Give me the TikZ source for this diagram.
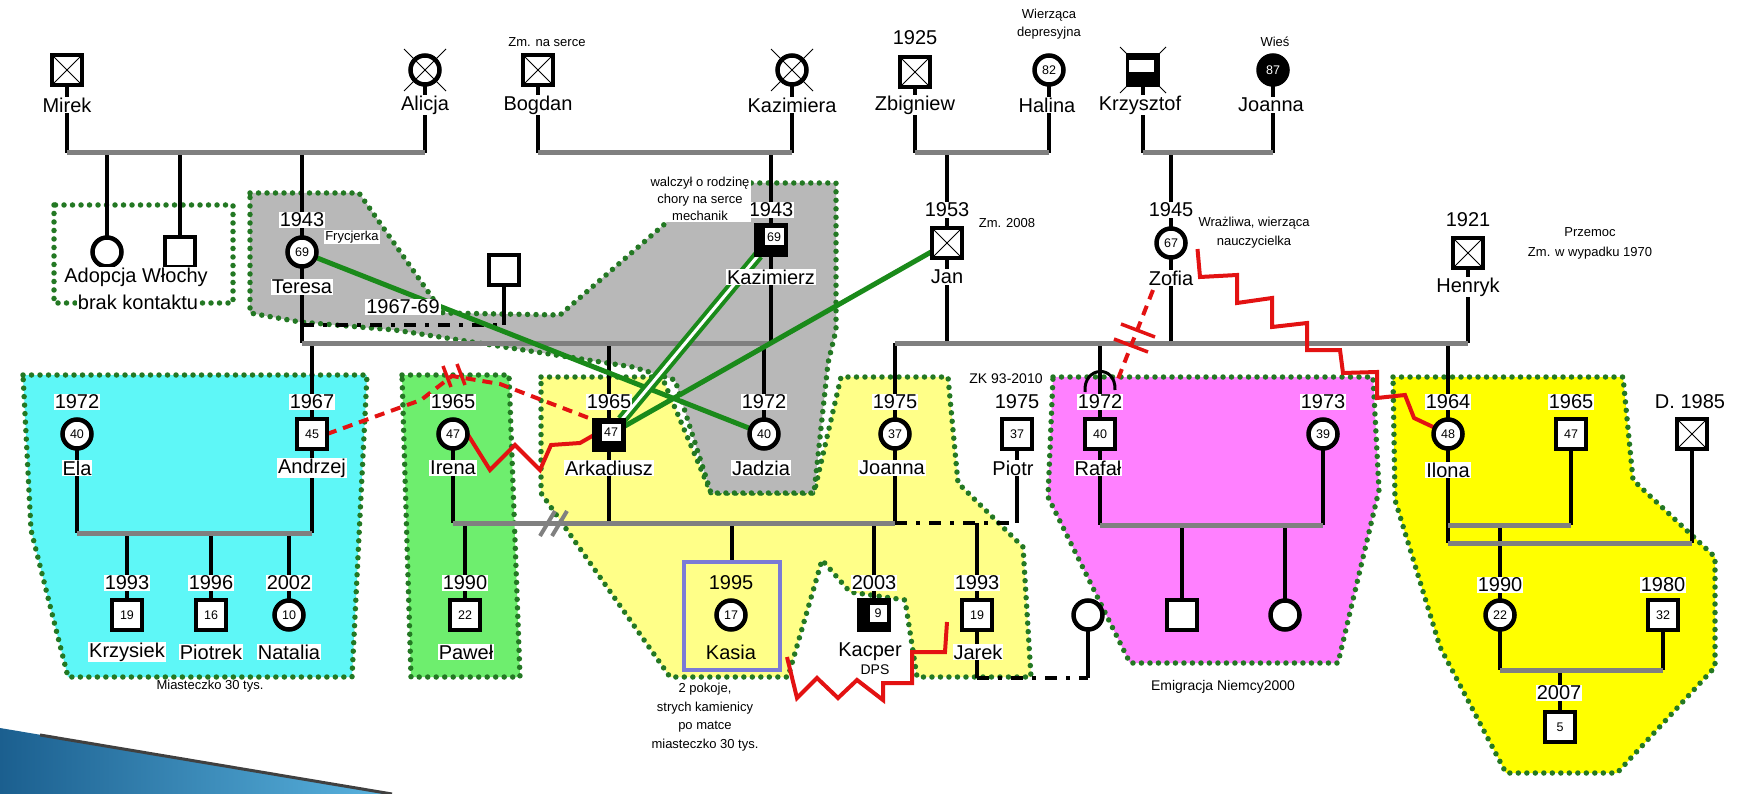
\documentclass[tikz,border=0pt]{standalone}
\usepackage{fontspec}
\setmainfont{Liberation Sans}
\usetikzlibrary{calc}
\pgfdeclarelayer{regions}
\pgfdeclarelayer{links}
\pgfsetlayers{regions,links,main}
\definecolor{cyanR}{HTML}{5EF7F7}
\definecolor{greenR}{HTML}{6EEE6E}
\definecolor{yellowL}{HTML}{FFFF88}
\definecolor{yellowR}{HTML}{FFFF00}
\definecolor{pinkR}{HTML}{FF80FF}
\definecolor{grayR}{HTML}{B8B8B8}
\definecolor{dotG}{HTML}{237823}
\definecolor{relG}{HTML}{1A8A1A}
\definecolor{mlG}{HTML}{808080}
\definecolor{redL}{HTML}{E31212}
\definecolor{kasiaB}{HTML}{7B7BD6}
\definecolor{decoA}{HTML}{1B5F8F}
\definecolor{decoB}{HTML}{5AB4E0}
\newcommand{\gxm}[2]{\draw[xs] ($(#1)+(-#2,-#2)$) -- ($(#1)+(#2,#2)$) ($(#1)+(#2,-#2)$) -- ($(#1)+(-#2,#2)$);}
\begin{document}
\begin{tikzpicture}[x=1pt,y=-1pt,
  msq/.style={draw, line width=4.5, fill=white, minimum size=30, inner sep=0, outer sep=0, font=\fontsize{12.5}{12.5}\selectfont},
  fci/.style={circle, draw, line width=4.5, fill=white, minimum size=29, inner sep=0, outer sep=0, font=\fontsize{12.5}{12.5}\selectfont},
  bsq/.style={msq, fill=black},
  wbox/.style={fill=white, minimum width=19, minimum height=17, inner sep=0, font=\fontsize{12.5}{12.5}\selectfont},
  lbl/.style={fill=white, inner sep=1, outer sep=0, font=\fontsize{20}{22}\selectfont},
  note/.style={inner sep=1, align=center, font=\fontsize{13}{17}\selectfont},
  ml/.style={draw=mlG, line width=5},
  bl/.style={draw=black, line width=4},
  xs/.style={draw=black, line width=1},
  rgn/.style={draw=dotG, line width=5.5, dash pattern=on 0pt off 8.5pt, line cap=round},
  reld/.style={draw=redL, line width=4, dash pattern=on 10pt off 7pt},
  redz/.style={draw=redL, line width=4, line join=miter},
  grl/.style={draw=relG, line width=5},
  grd/.style={draw=relG, line width=4, double=white, double distance=3},
  dd/.style={draw=black, line width=4, dash pattern=on 12pt off 9pt on 4pt off 9pt}
]
\useasboundingbox (0,0) rectangle (1743,794);

%================ top row
\node[msq] (mirek) at (67,70) {}; \gxm{mirek}{15}
\node[fci] (alicja) at (425,70) {}; \gxm{alicja}{21}
\node[msq] (bogdan) at (538,70) {}; \gxm{bogdan}{15}
\node[fci] (kazimiera) at (792,70) {}; \gxm{kazimiera}{21}
\node[msq] (zbigniew) at (915,72) {}; \gxm{zbigniew}{15}
\node[fci] (halina) at (1049,70) {82};
\coordinate (kz) at (1143,70); \gxm{kz}{23}
\node[bsq] (krzysztof) at (kz) {};
\node[fill=white, minimum width=25, minimum height=12, inner sep=0] (kzw) at ($(krzysztof)+(-1.5,-4)$) {};
\node[fci, fill=black, text=white] (joannat) at (1273,70) {87};

\node[lbl] (nmirek) at (67,105) {Mirek};
\node[lbl] (nalicja) at (425,105) {Alicja};
\node[lbl] (nbogdan) at (538,105) {Bogdan};
\node[lbl] (nkazimiera) at (792,105) {Kazimiera};
\node[lbl] (nzbigniew) at (915,105) {Zbigniew};
\node[lbl] (nhalina) at (1047,105) {Halina};
\node[lbl] (nkrzysztof) at (1140,105) {Krzysztof};
\node[lbl] (njoannat) at (1271,105) {Joanna};
\node[note] (zmserce) at (547,42) {Zm. na serce};
\node[lbl] (y1925) at (915,38) {1925};
\node[note, font=\fontsize{13}{18}\selectfont] (wierz) at (1049,24) {Wierząca\\depresyjna};
\node[note] (wies) at (1275,42) {Wieś};

%================ second row
\node[fci] (adopcja) at (107,252) {};
\node[msq] (wlochy) at (180,252) {};
\node[lbl] (nadw) at (136,277) {Adopcja Włochy};
\node[lbl] (nbrak) at (138,302) {brak kontaktu};

\node[fci] (teresa) at (302,252) {69};
\node[lbl] (yteresa) at (302,220) {1943};
\node[note, fill=white] (fryz) at (352,237) {Frycjerka};
\node[lbl] (nteresa) at (302,287) {Teresa};
\node[msq] (pq) at (504,270) {};
\node[lbl] (y6769) at (403,307) {1967-69};

\node[bsq] (kazimierz) at (771,240) {};
\node[wbox] (kazw) at ($(kazimierz)+(3,-3)$) {69};
\node[lbl] (ykazimierz) at (771,210) {1943};
\node[lbl] (nkazimierz) at (771,277) {Kazimierz};
\node[note, fill=white, font=\fontsize{13}{17}\selectfont] (walcz) at (700,199) {walczył o rodzinę\\chory na serce\\mechanik};

\node[msq] (jan) at (947,243) {}; \gxm{jan}{15}
\node[lbl] (yjan) at (947,210) {1953};
\node[note] (zm2008) at (1007,223) {Zm. 2008};
\node[lbl] (njan) at (947,277) {Jan};

\node[fci] (zofia) at (1171,243) {67};
\node[lbl] (yzofia) at (1171,210) {1945};
\node[lbl] (nzofia) at (1171,278) {Zofia};
\node[note, font=\fontsize{13}{19}\selectfont] (wraz) at (1254,233) {Wrażliwa, wierząca\\nauczycielka};

\node[msq] (henryk) at (1468,253) {}; \gxm{henryk}{15}
\node[lbl] (yhenryk) at (1468,220) {1921};
\node[lbl] (nhenryk) at (1468,287) {Henryk};
\node[note, font=\fontsize{13}{20}\selectfont] (przem) at (1590,243) {Przemoc\\Zm. w wypadku 1970};

%================ third row
\node[fci] (ela) at (77,434) {40};
\node[lbl] (yela) at (77,402) {1972};
\node[lbl] (nela) at (77,468) {Ela};
\node[msq] (andrzej) at (312,434) {45};
\node[lbl] (yandrzej) at (312,402) {1967};
\node[lbl] (nandrzej) at (312,468) {Andrzej};
\node[fci] (irena) at (453,434) {47};
\node[lbl] (yirena) at (453,402) {1965};
\node[lbl] (nirena) at (453,468) {Irena};
\node[bsq] (arkadiusz) at (609,435) {};
\node[wbox] (arkw) at ($(arkadiusz)+(2,-3)$) {47};
\node[lbl] (yarkadiusz) at (609,402) {1965};
\node[lbl] (narkadiusz) at (609,468) {Arkadiusz};
\node[fci] (jadzia) at (764,434) {40};
\node[lbl] (yjadzia) at (764,402) {1972};
\node[lbl] (njadzia) at (761,468) {Jadzia};
\node[fci] (joanna) at (895,434) {37};
\node[lbl] (yjoanna) at (895,402) {1975};
\node[lbl] (njoanna) at (892,468) {Joanna};
\node[note, font=\fontsize{14}{16}\selectfont] (zk) at (1006,379) {ZK 93-2010};
\node[msq] (piotr) at (1017,434) {37};
\node[lbl] (ypiotr) at (1017,402) {1975};
\node[lbl] (npiotr) at (1013,468) {Piotr};
\node[msq] (rafal) at (1100,434) {40};
\node[lbl] (yrafal) at (1100,402) {1972};
\node[lbl] (nrafal) at (1098,468) {Rafał};
\node[fci] (wc) at (1323,434) {39};
\node[lbl] (ywc) at (1323,402) {1973};
\node[fci] (ilona) at (1448,434) {48};
\node[lbl] (yilona) at (1448,402) {1964};
\node[lbl] (nilona) at (1448,470) {Ilona};
\node[msq] (mb) at (1571,434) {47};
\node[lbl] (ymb) at (1571,402) {1965};
\node[msq] (dd85) at (1692,434) {}; \gxm{dd85}{15}
\node[lbl] (ydd85) at (1690,402) {D. 1985};

%================ fourth row
\node[msq] (krzysiek) at (127,615) {19};
\node[lbl] (ykrzysiek) at (127,583) {1993};
\node[lbl] (nkrzysiek) at (127,652) {Krzysiek};
\node[msq] (piotrek) at (211,615) {16};
\node[lbl] (ypiotrek) at (211,583) {1996};
\node[lbl] (npiotrek) at (211,652) {Piotrek};
\node[fci] (natalia) at (289,615) {10};
\node[lbl] (ynatalia) at (289,583) {2002};
\node[lbl] (nnatalia) at (289,652) {Natalia};
\node[note, font=\fontsize{13}{15}\selectfont] (miast) at (210,686) {Miasteczko 30 tys.};
\node[msq] (pawel) at (465,615) {22};
\node[lbl] (ypawel) at (465,583) {1990};
\node[lbl] (npawel) at (466,652) {Paweł};

\node[draw=kasiaB, line width=4.5, minimum width=96, minimum height=108, inner sep=0] (kbox) at (732,616) {};
\node[fci] (kasia) at (731,615) {17};
\node[lbl, fill=yellowL] (ykasia) at (731,583) {1995};
\node[lbl, fill=yellowL] (nkasia) at (731,652) {Kasia};
\node[note, font=\fontsize{13}{18.5}\selectfont] (pokoje) at (705,717) {2 pokoje,\\strych kamienicy\\po matce\\miasteczko 30 tys.};

\node[bsq] (kacper) at (874,615) {};
\node[wbox, minimum width=17] (kacw) at ($(kacper)+(4,-2)$) {9};
\node[lbl] (ykacper) at (874,583) {2003};
\node[lbl] (nkacper) at (870,652) {Kacper};
\node[note, font=\fontsize{14}{16}\selectfont] (dps) at (875,670) {DPS};

\node[msq] (jarek) at (977,615) {19};
\node[lbl] (yjarek) at (977,583) {1993};
\node[lbl] (njarek) at (978,652) {Jarek};
\node[fci] (uc) at (1088,615) {};

\node[msq] (ps) at (1182,615) {};
\node[fci] (pc) at (1285,615) {};
\node[note, font=\fontsize{14}{16}\selectfont] (emig) at (1223,687) {Emigracja Niemcy2000};

\node[fci] (y1990) at (1500,615) {22};
\node[lbl] (yy1990) at (1500,585) {1990};
\node[msq] (y1980) at (1663,615) {32};
\node[lbl] (yy1980) at (1663,585) {1980};
\node[msq] (k2007) at (1560,727) {5};
\node[lbl] (yk2007) at (1559,693) {2007};

%================ coordinates of family lines
\coordinate (tA) at (67,153); \coordinate (tB) at (425,153);
\coordinate (tC) at (538,153); \coordinate (tD) at (792,153);
\coordinate (tE) at (915,153); \coordinate (tF) at (1049,153);
\coordinate (tG) at (1143,153); \coordinate (tH) at (1273,153);
\coordinate (gA) at (302,343); \coordinate (gB) at (771,343);
\coordinate (gC) at (895,343); \coordinate (gD) at (1468,343);
\coordinate (eA) at (77,533); \coordinate (eB) at (312,533);
\coordinate (iA) at (453,523); \coordinate (iB) at (895,523); \coordinate (pE) at (1017,523);
\coordinate (rA) at (1100,525); \coordinate (rB) at (1323,525);
\coordinate (lA) at (1448,525); \coordinate (lB) at (1571,525);
\coordinate (lC) at (1448,543); \coordinate (lD) at (1692,543);
\coordinate (cA) at (1500,670); \coordinate (cB) at (1663,670);
\coordinate (dA) at (302,325); \coordinate (dB) at (504,325);
\coordinate (jA) at (977,678); \coordinate (jB) at (1088,678);

%================ links layer
\begin{pgfonlayer}{links}
\draw[bl] (mirek) -- (mirek |- tA);
\draw[bl] (alicja) -- (alicja |- tB);
\draw[bl] (bogdan) -- (bogdan |- tC);
\draw[bl] (kazimiera) -- (kazimiera |- tD);
\draw[bl] (zbigniew) -- (zbigniew |- tE);
\draw[bl] (halina) -- (halina |- tF);
\draw[bl] (krzysztof) -- (krzysztof |- tG);
\draw[bl] (joannat) -- (joannat |- tH);
\draw[bl] (adopcja) -- (adopcja |- tA);
\draw[bl] (wlochy) -- (wlochy |- tA);
\draw[bl] (teresa |- tA) -- (teresa |- gA);
\draw[bl] (kazimierz |- tC) -- (kazimierz |- gB);
\draw[bl] (jan |- tE) -- (jan |- gC);
\draw[bl] (zofia |- tG) -- (zofia |- gD);
\draw[bl] (henryk) -- (henryk |- gD);
\draw[bl] (pq) -- (pq |- dB);
\draw[bl] (ela) -- (ela |- eA);
\draw[bl] (andrzej |- gA) -- (andrzej |- eA);
\draw[bl] (irena) -- (irena |- iA);
\draw[bl] (arkadiusz |- gA) -- (arkadiusz |- iA);
\draw[bl] (jadzia |- gA) -- (jadzia);
\draw[bl] (joanna |- gC) -- (joanna |- iB);
\draw[bl] (piotr) -- (piotr |- pE);
\draw[bl] (rafal |- gC) -- (rafal |- rA);
\draw[bl] (wc) -- (wc |- rB);
\draw[bl] (ilona |- gC) -- (ilona |- lC);
\draw[bl] (mb) -- (mb |- lB);
\draw[bl] (dd85) -- (dd85 |- lD);
\draw[bl] (krzysiek) -- (krzysiek |- eA);
\draw[bl] (piotrek) -- (piotrek |- eA);
\draw[bl] (natalia) -- (natalia |- eA);
\draw[bl] (pawel) -- (pawel |- iA);
\draw[bl] (kbox) -- (kbox |- iA);
\draw[bl] (kacper) -- (kacper |- iA);
\draw[bl] (jarek |- pE) -- (jarek |- jA);
\draw[bl] (uc) -- (uc |- jB);
\draw[bl] (ps) -- (ps |- rA);
\draw[bl] (pc) -- (pc |- rA);
\draw[bl] (y1990 |- lA) -- (y1990);
\draw[bl] (y1990) -- (y1990 |- cA);
\draw[bl] (y1980) -- (y1980 |- cB);
\draw[bl] (k2007) -- ($(k2007 |- cA)+(0,1)$);
\draw[bl, line width=3] (1085,392) .. controls (1083,366) and (1116,364) .. (1115,390);
\draw[ml] (tA) -- (tB);
\draw[ml] (tC) -- (tD);
\draw[ml] (tE) -- (tF);
\draw[ml] (tG) -- (tH);
\draw[ml] (gA) -- (gB);
\draw[ml] (gC) -- (gD);
\draw[ml] (eA) -- (eB);
\draw[ml] (iA) -- (iB);
\draw[ml] (rA) -- (rB);
\draw[ml] (lA) -- (lB);
\draw[ml] (lC) -- (lD);
\draw[ml] (cA) -- (cB);
\draw[mlG, line width=4] (540,536) -- (555,511) (552,536) -- (567,511);
\draw[dd] (dA) -- (dB);
\draw[dd] (iB) -- (pE);
\draw[dd] (jA) -- (jB);
\draw[grl] (teresa) -- (jadzia);
\draw[grd] (kazimierz) -- (arkadiusz);
\draw[grl] (jan) -- (arkadiusz);
\draw[reld] (andrzej.east) -- (421,400) -- (452,376) -- (500,384) -- (arkadiusz.north west);
\draw[redL, line width=3.5] (443,366) -- (451,387) (457,364) -- (465,385);
\draw[redz] (irena.east) -- (490,470) -- (515,445) -- (540,470) -- (551,445) -- (580,443) -- (arkadiusz.west);
\draw[redz] (zofia.east) ++(12,6) -- (1200,277) -- (1237,275) -- (1237,303) -- (1272,298) -- (1272,327) -- (1307,323) -- (1307,350) -- (1340,350) -- (1343,373) -- (1377,372) -- (1377,398) -- (1405,395) -- (1414,418) -- (ilona);
\coordinate (zr1) at (1153,290); \coordinate (zr2) at (1116,384);
\draw[reld] (zr1) -- (zr2);
\draw[redL, line width=3.5] (1121,324) -- (1155,337) (1114,339) -- (1148,352);
\coordinate (kj1) at (787,657);
\draw[redz] (kj1) -- (797,698) -- (817,678) -- (838,698) -- (857,680) -- (883,700) -- (883,683) -- (912,683) -- (912,652) -- (945,652) -- (947,622);
\end{pgfonlayer}

%================ regions layer
\begin{pgfonlayer}{regions}
\fill[white] (0,0) rectangle (1743,794);
\filldraw[rgn, fill=cyanR] (23,375) -- (367,375) -- (352,677) -- (68,677) -- (31,530) -- cycle;
\filldraw[rgn, fill=greenR] (402,375) -- (509,375) -- (520,677) -- (411,677) -- cycle;
\filldraw[rgn, fill=yellowL] (541,377) -- (662,377) -- (711,493) -- (814,493) -- (841,377) -- (948,377) -- (958,483) -- (1023,547) -- (1031,677) -- (917,677) -- (905,600) -- (850,592) -- (822,560) -- (788,677) -- (670,677) -- (541,493) -- cycle;
\filldraw[rgn, fill=pinkR] (1053,377) -- (1373,377) -- (1379,490) -- (1338,663) -- (1130,663) -- (1048,497) -- cycle;
\filldraw[rgn, fill=yellowR] (1393,377) -- (1623,377) -- (1633,480) -- (1715,557) -- (1715,667) -- (1617,773) -- (1506,773) -- (1440,647) -- (1395,500) -- cycle;
\filldraw[rgn, fill=grayR] (250,193) -- (359,193) -- (443,313) -- (560,315) -- (667,222) -- (700,190) -- (751,183) -- (836,183) -- (836,330) -- (828,363) -- (814,493) -- (711,493) -- (675,380) -- (633,367) -- (395,330) -- (300,322) -- (250,313) -- cycle;
\draw[rgn] (54,205) rectangle (233,303);
\shade[left color=decoA, right color=decoB] (0,728) -- (392,794) -- (0,794) -- cycle;
\draw[black!75, line width=3] (40,735) -- (392,794);
\end{pgfonlayer}
\end{tikzpicture}
\end{document}
